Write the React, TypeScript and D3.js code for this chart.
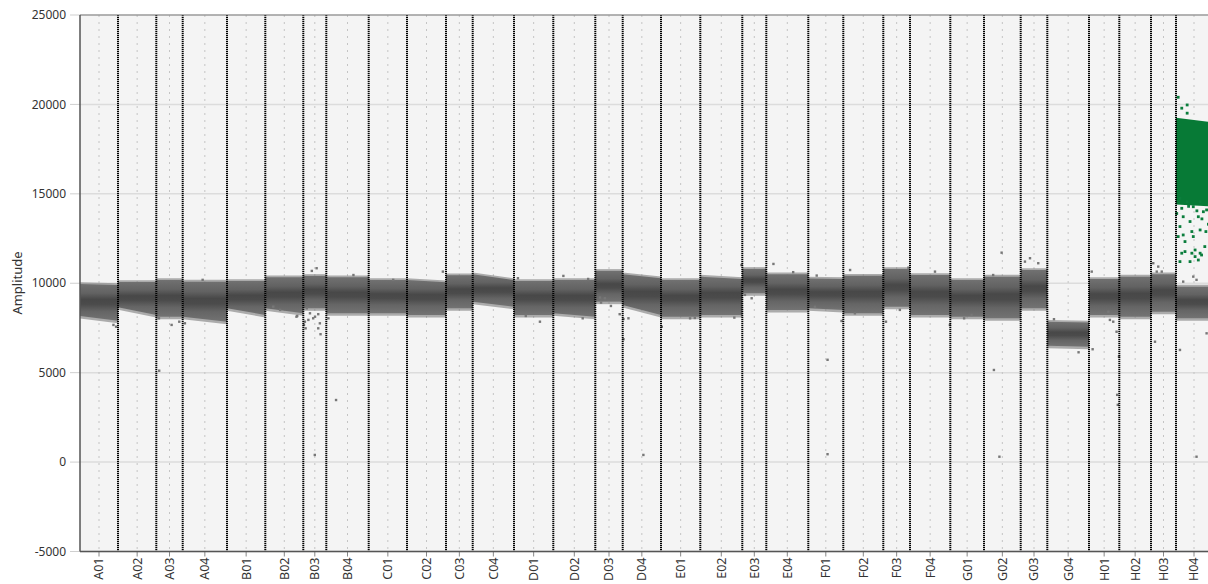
import React from "react";
import * as d3 from "d3";

// ---- data ----
const wells = [
  "A01","A02","A03","A04","B01","B02","B03","B04",
  "C01","C02","C03","C04","D01","D02","D03","D04",
  "E01","E02","E03","E04","F01","F02","F03","F04",
  "G01","G02","G03","G04","H01","H02","H03","H04",
];
// accepted droplet events per well (sets the width of each well)
const dropletCounts = [
  15200,15320,10560,17720,15320,15200,9200,16960,
  15320,15600,10680,16520,15720,16800,10960,15320,
  15720,16800,9600,16800,14000,16000,10680,16120,
  13480,14680,10640,16680,12120,12680,10000,14400,
];
// negative droplet band: amplitude edges at start / end of each well
const bandTopStart = [
  9960,10070,10180,10090,10130,10340,10410,10340,
  10180,10180,10450,10500,10130,10180,10690,10500,
  10180,10370,10800,10500,10260,10420,10800,10460,
  10180,10370,10740,7850,10240,10370,10500,9810,
];
const bandTopEnd = [
  9900,10070,10180,10090,10130,10340,10410,10340,
  10180,10060,10450,10180,10130,10180,10690,10280,
  10180,10240,10800,10500,10240,10420,10800,10460,
  10180,10370,10740,7800,10240,10370,10500,9810,
];
const bandBottomStart = [
  8170,8660,8130,8130,8600,8600,8600,8320,
  8320,8230,8600,8970,8230,8320,8970,8790,
  8130,8230,9440,8500,8600,8320,8690,8230,
  8130,8040,8600,6500,8230,8130,8410,8040,
];
const bandBottomEnd = [
  7900,8230,8130,7850,8230,8320,8600,8320,
  8320,8230,8600,8690,8230,8130,8970,8230,
  8130,8230,9440,8500,8500,8320,8690,8230,
  8130,8040,8600,6450,8230,8130,8410,8040,
];
// outlier (gray) droplets: well, relative position in well, amplitude
const outlierWell = [
  "A01","A01","A03","A03","A03","A04","A04","B02","B02","B02",
  "B02","B03","B03","B03","B03","B03","B03","B03","B03","B03",
  "B03","B03","B03","B03","B03","B03","B04","B04","B04","C01",
  "C02","D01","D02","D02","D03","D03","D03","D03","D03","D04",
  "D04","D04","E01","D01","D01","D02","E01","E01","E04","E04",
  "F01","F01","E03","E03","E02","E02","F02","F01","F02","F03",
  "F03","F03","F04","G01","G01","F04","G02","G03","G03","G03",
  "G04","G04","H01","H01","H01","H03","H04","H04","G02","H01",
  "H01","H01","H01","H03","H03","H03","H03","H04","H04","H04",
  "G02","F01","H01","H01","A03","H04","G02","D04","F01",
];
const outlierPos = [
  0.88,0.95,0.58,0.87,0.1,0.05,0.45,0.21,0.39,0.82,
  0.84,0.37,0.58,0.15,0.29,0.51,0.65,0.07,0.22,0.72,
  0.43,0.03,0.65,0.75,0.1,0.5,0.05,0.23,0.64,0.64,
  0.92,0.1,0.24,0.83,0.17,0.35,0.21,0.57,0.89,0.02,
  0.15,0.02,0.02,0.66,0.3,0.7,0.74,0.86,0.17,0.64,
  0.24,0.19,0.11,0.39,0.98,0.81,0.17,0.95,0.29,0.1,
  0.62,0.94,0.62,0.41,0.63,0.99,0.25,0.35,0.16,0.66,
  0.75,0.16,0.12,0.91,0.99,0.16,0.11,0.85,0.48,0.69,
  0.8,0.64,0.09,0.09,0.29,0.43,0.23,0.48,0.57,0.2,
  0.27,0.55,0.93,0.95,0.11,0.57,0.42,0.54,0.55,
];
const outlierAmp = [
  7670,7570,7670,7850,8040,7760,10190,8690,8510,8130,
  8170,10690,10840,8600,8320,8130,8270,7850,7950,7760,
  8040,7670,7480,7150,7480,400,8040,3470,10460,10190,
  10650,10280,10410,10240,9200,9160,8920,8730,8270,8000,
  8040,6870,7570,7850,8170,8040,8040,8060,11080,10620,
  10430,8680,9350,9160,11020,8080,10740,7890,8320,7850,
  8510,10870,10650,8040,8230,7670,10460,11400,11210,11120,
  6140,7990,6310,7290,5900,6730,6270,7200,11710,7950,
  7850,8410,10650,11120,10930,10650,10650,10370,10190,10090,
  5150,5720,3760,3200,5110,300,300,400,440,
];
// positive (green) droplets in H04
const positiveWell = "H04";
const positiveTop = [19250, 19000];
const positiveBottom = [14400, 14300];
const positivePos = [
  0.06,0.16,0.31,0.31,0.11,0.31,0.67,0.16,0.48,0.76,
  0.2,0.39,0.62,0.11,0.06,0.2,0.44,0.67,0.83,0.25,
  0.48,0.16,0.44,0.67,0.53,0.11,0.62,0.8,0.25,0.39,
  0.53,0.71,0.9,0.85,0.95,0.02,0.35,0.58,0.72,0.9,
];
const positiveAmp = [
  20400,19790,19970,19510,14750,14560,14560,14190,14280,14000,
  13720,13450,13720,13170,12610,12700,12890,12980,12890,12330,
  12610,11680,11680,11680,11860,11210,11300,12050,11770,11210,
  11490,11580,13300,14100,12500,13900,14300,14050,13600,14400,
];
const yTicks = [-5000, 0, 5000, 10000, 15000, 20000, 25000];

// ---- layout ----
const W = 1208, H = 584;
const L = 80, T = 15, B = 551.5, R = 1212;

export default function App() {
  const starts: number[] = [];
  let acc = 0;
  dropletCounts.forEach((c) => { starts.push(acc); acc += c; });
  const total = acc;
  const x = d3.scaleLinear().domain([0, total]).range([L, R]);
  const y = d3.scaleLinear().domain([-5000, 25000]).range([B, T]);
  const idx = (w: string) => wells.indexOf(w);
  const evAt = (w: string, f: number) => { const i = idx(w); return starts[i] + f * dropletCounts[i]; };

  const area = d3.area<{ ev: number; lo: number; hi: number }>()
    .x((d) => x(d.ev)).y0((d) => y(d.lo)).y1((d) => y(d.hi));

  const bands = wells.map((w, i) => {
    const s = starts[i], e = starts[i] + dropletCounts[i];
    return {
      w,
      main: area([
        { ev: s, lo: bandBottomStart[i], hi: bandTopStart[i] },
        { ev: e, lo: bandBottomEnd[i], hi: bandTopEnd[i] },
      ]) as string,
      fringe: area([
        { ev: s, lo: bandBottomStart[i] - 140, hi: bandTopStart[i] + 100 },
        { ev: e, lo: bandBottomEnd[i] - 140, hi: bandTopEnd[i] + 100 },
      ]) as string,
    };
  });
  const pi = idx(positiveWell);
  const posBand = area([
    { ev: starts[pi], lo: positiveBottom[0], hi: positiveTop[0] },
    { ev: starts[pi] + dropletCounts[pi], lo: positiveBottom[1], hi: positiveTop[1] },
  ]) as string;

  const font = "'Noto Sans', 'Open Sans', sans-serif";
  return (
    <svg width={W} height={H} style={{ position: "absolute", left: 0, top: 0, background: "#fff" }}>
      <defs>
        <linearGradient id="band" x1="0" y1="0" x2="0" y2="1">
          <stop offset="0" stopColor="#717171" />
          <stop offset="0.25" stopColor="#626262" />
          <stop offset="0.42" stopColor="#484848" />
          <stop offset="0.55" stopColor="#4b4b4b" />
          <stop offset="0.75" stopColor="#656565" />
          <stop offset="1" stopColor="#737373" />
        </linearGradient>
        <clipPath id="plot"><rect x={L} y={T} width={R - L} height={B - T} /></clipPath>
      </defs>
      <rect x={L} y={T} width={R - L} height={B - T} fill="#f4f4f4" />
      {yTicks.map((t) => (
        <g key={t}>
          <line x1={L} x2={R} y1={y(t)} y2={y(t)} stroke="#dcdcdc" strokeWidth={1.5} />
          <line x1={70} x2={L} y1={y(t)} y2={y(t)} stroke="#cfcfcf" strokeWidth={1} />
          <text x={66} y={y(t)} dy="0.35em" textAnchor="end" fontSize={12} fontFamily={font} fill="#333">{t}</text>
        </g>
      ))}
      {wells.map((w, i) => {
        const cx = x(starts[i] + dropletCounts[i] / 2);
        return (
          <g key={w}>
            <line x1={cx} x2={cx} y1={T} y2={B} stroke="#c4c4c4" strokeWidth={1} strokeDasharray="2,5" />
            <line x1={cx} x2={cx} y1={B} y2={B + 5} stroke="#888" strokeWidth={1} />
            <text transform={`translate(${cx},${B + 6}) rotate(-90)`} dy="0.35em" textAnchor="end" fontSize={12.5} fontFamily={font} fill="#333">{w}</text>
          </g>
        );
      })}
      <g clipPath="url(#plot)">
        {bands.map((b) => (
          <g key={b.w}>
            <path d={b.fringe} fill="#7a7a7a" opacity={0.6} />
            <path d={b.main} fill="url(#band)" />
          </g>
        ))}
        <path d={posBand} fill="#077a36" />
        {outlierWell.map((w, i) => (
          <rect key={"o" + i} x={x(evAt(w, outlierPos[i])) - 1.2} y={y(outlierAmp[i]) - 1.2} width={2.4} height={2.4} fill="#777" />
        ))}
        {positivePos.map((p, i) => (
          <rect key={"p" + i} x={x(evAt(positiveWell, p)) - 1.4} y={y(positiveAmp[i]) - 1.4} width={2.8} height={2.8} fill="#0a7d3c" />
        ))}
        {wells.slice(1).map((w, i) => {
          const bx = x(starts[i + 1]);
          return <line key={"b" + w} x1={bx} x2={bx} y1={T} y2={B} stroke="#000" strokeWidth={2} strokeDasharray="1.2,0.8" />;
        })}
      </g>
      <line x1={L} x2={R} y1={T} y2={T} stroke="#808080" strokeWidth={1} />
      <line x1={L} x2={L} y1={T} y2={B} stroke="#555" strokeWidth={1.5} />
      <line x1={L} x2={R} y1={B} y2={B} stroke="#555" strokeWidth={1.5} />
      <text transform={`translate(17,283) rotate(-90)`} dy="0.35em" textAnchor="middle" fontSize={13} fontFamily={font} fill="#333">Amplitude</text>
    </svg>
  );
}
